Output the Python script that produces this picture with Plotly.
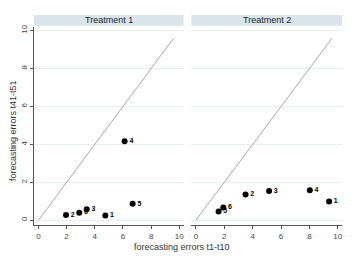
import plotly.graph_objects as go

W, H = 356, 259
ids = ['1', '2', '3', '4', '5', '6']
t1_x = [4.75, 1.96, 3.43, 6.12, 6.69, 2.90]
t1_y = [0.26, 0.28, 0.58, 4.17, 0.87, 0.40]
t2_x = [9.39, 3.50, 5.16, 8.03, 1.60, 1.93]
t2_y = [0.99, 1.36, 1.55, 1.59, 0.47, 0.68]
diag = [0, 9.6]
panels = ['Treatment 1', 'Treatment 2']
ticks = [0, 2, 4, 6, 8, 10]

FONT = 'Liberation Sans, Arial, sans-serif'
fig = go.Figure()

for xs, ys, xa, ya in [(t1_x, t1_y, 'x', 'y'), (t2_x, t2_y, 'x2', 'y2')]:
    fig.add_trace(go.Scatter(x=diag, y=diag, mode='lines', xaxis=xa, yaxis=ya,
                             line=dict(color='#a8a8a8', width=1), hoverinfo='skip'))
    fig.add_trace(go.Scatter(x=xs, y=ys, mode='markers+text', text=ids, xaxis=xa, yaxis=ya,
                             textposition='middle right',
                             textfont=dict(family=FONT, size=7, color='black', weight='bold'),
                             marker=dict(color='black', size=6)))

xcommon = dict(range=[-0.32, 10.3], tickvals=ticks, showgrid=False, zeroline=False,
               showline=True, linecolor='#555', linewidth=1, ticks='outside', ticklen=3,
               tickcolor='#555', tickfont=dict(family=FONT, size=8, color='#444'))
ycommon = dict(range=[-0.26, 10.2], tickvals=ticks, zeroline=False,
               gridcolor='#e6eef0', gridwidth=1)

fig.update_layout(
    width=W, height=H, margin=dict(l=0, r=0, t=0, b=0),
    paper_bgcolor='white', plot_bgcolor='white', showlegend=False,
    font=dict(family=FONT),
    xaxis=dict(domain=[0.0955, 0.517], anchor='y', **xcommon),
    xaxis2=dict(domain=[0.539, 0.9635], anchor='y2', **xcommon),
    yaxis=dict(domain=[0.1313, 0.9035], anchor='x', showline=True, linecolor='#555',
               ticks='outside', ticklen=3, tickcolor='#555', tickangle=-90,
               tickfont=dict(family=FONT, size=8, color='#444'), **ycommon),
    yaxis2=dict(domain=[0.1313, 0.9035], anchor='x2', showticklabels=False,
                showline=False, ticks='', **ycommon),
)

shapes = []
annots = []
for (x0, x1), name in zip([(0.0955, 0.517), (0.539, 0.9635)], panels):
    shapes.append(dict(type='rect', xref='paper', yref='paper', x0=x0, x1=x1,
                       y0=1 - 24 / H, y1=1 - 13 / H, fillcolor='#d9e5ea', line=dict(width=0),
                       layer='below'))
    annots.append(dict(xref='paper', yref='paper', x=(x0 + x1) / 2, y=1 - 18.5 / H,
                       text=name, showarrow=False, font=dict(family=FONT, size=9, color='#222'),
                       xanchor='center', yanchor='middle'))
annots.append(dict(xref='paper', yref='paper', x=183 / W, y=1 - 247 / H,
                   text='forecasting errors t1-t10', showarrow=False,
                   font=dict(family=FONT, size=9, color='#333'), xanchor='center', yanchor='middle'))
annots.append(dict(xref='paper', yref='paper', x=13 / W, y=1 - 129 / H,
                   text='forecasting errors t41-t51', showarrow=False, textangle=-90,
                   font=dict(family=FONT, size=9, color='#333'), xanchor='center', yanchor='middle'))
fig.update_layout(shapes=shapes, annotations=annots)

fig.write_html('out.html')
